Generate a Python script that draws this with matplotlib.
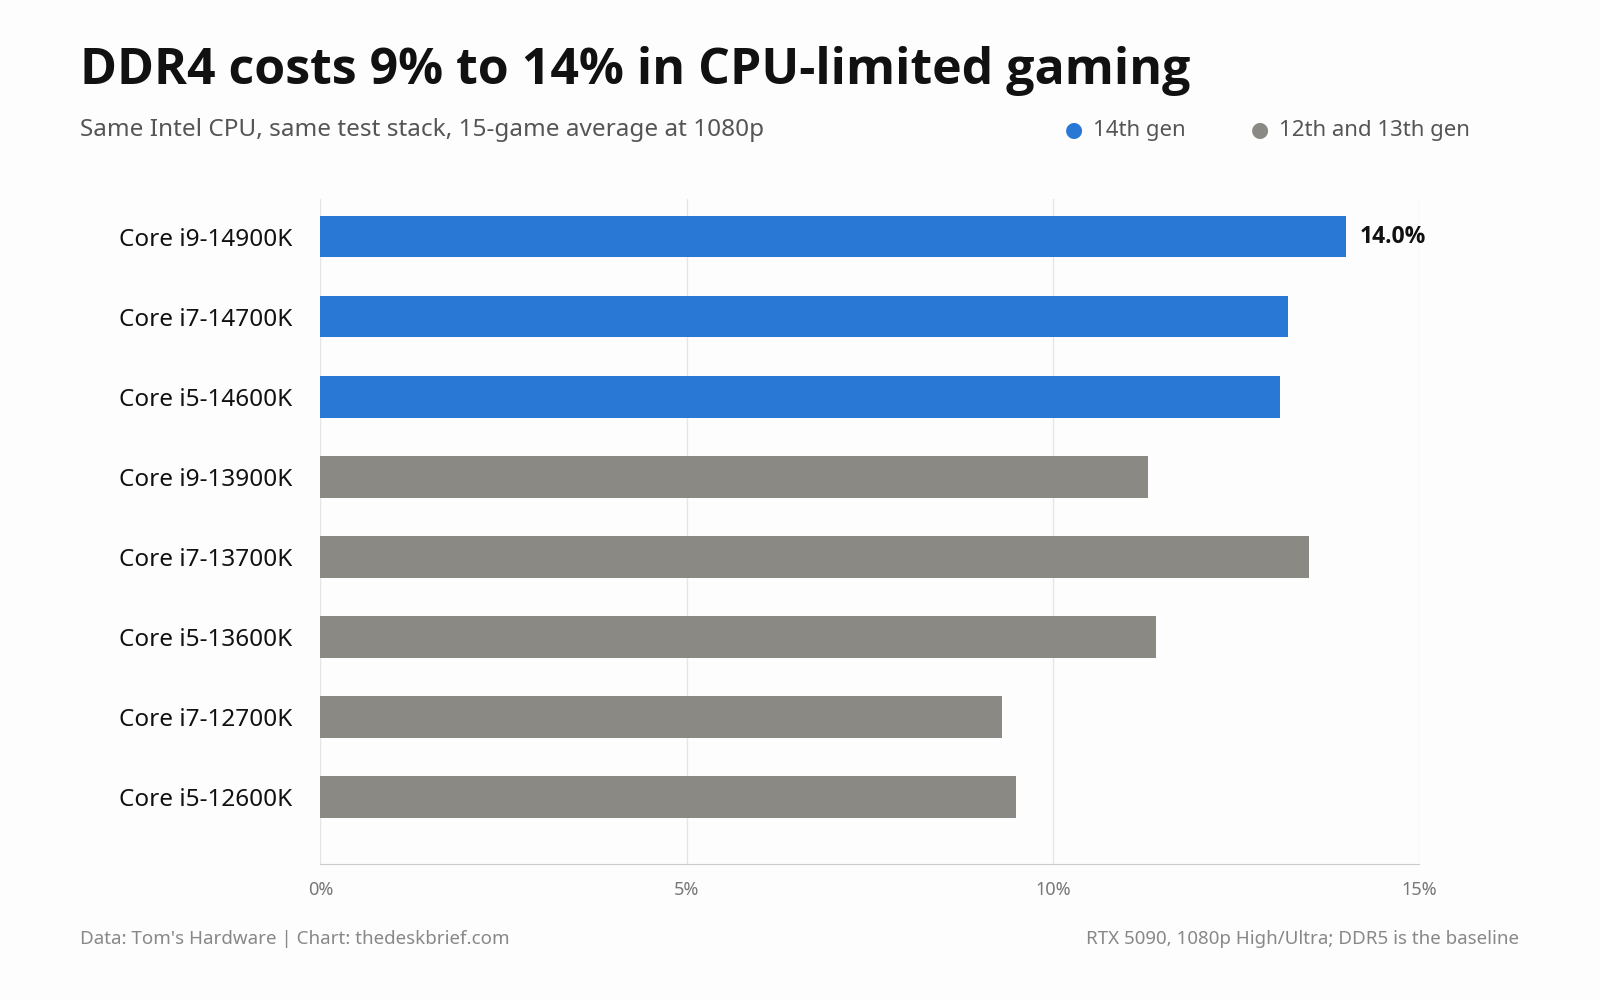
import matplotlib
matplotlib.use("Agg")
import matplotlib.pyplot as plt

cpus = ["Core i9-14900K","Core i7-14700K","Core i5-14600K","Core i9-13900K",
        "Core i7-13700K","Core i5-13600K","Core i7-12700K","Core i5-12600K"]
values = [14.0, 13.2, 13.1, 11.3, 13.5, 11.4, 9.3, 9.5]
gens = ["14th","14th","14th","old","old","old","old","old"]
ticks = [0, 5, 10, 15]
tick_labels = ["0%", "5%", "10%", "15%"]

plt.rcParams['font.family'] = ['Noto Sans', 'DejaVu Sans']
BOLD = ['Open Sans', 'DejaVu Sans']
BLUE = "#2a78d6"; GREY = "#8a8983"
fig = plt.figure(figsize=(16, 10), dpi=100, facecolor="#fdfdfd")
W, H = 1568, 980
ax = fig.add_axes([314/W, 1-847/H, (1391-314)/W, (847-195)/H], facecolor="#fdfdfd")
y = list(range(len(cpus)))
colors = [BLUE if g == "14th" else GREY for g in gens]
ax.barh(y, values, height=0.52, color=colors, zorder=3)
ax.set_ylim(7.84, -0.47)
ax.set_xlim(0, 15)
ax.set_yticks(y)
ax.set_yticklabels(cpus, fontsize=17.5, color="#111")
ax.set_xticks(ticks)
ax.set_xticklabels(tick_labels, fontsize=13, color="#777")
ax.tick_params(axis='both', length=0)
ax.tick_params(axis='y', pad=20)
ax.tick_params(axis='x', pad=12)
ax.grid(axis='x', color="#e6e6e6", lw=1, zorder=0)
for s in ["top", "right", "left"]:
    ax.spines[s].set_visible(False)
ax.spines["bottom"].set_color("#cccccc")
ax.text(values[0] + 0.18, 0, f"{values[0]:.1f}%", va="center", ha="left",
        fontsize=16.5, fontweight="bold", family=BOLD, color="#111")

fig.text(78/W, 1-70/H, "DDR4 costs 9% to 14% in CPU-limited gaming", fontsize=36,
         fontweight="bold", family=BOLD, va="center", color="#111")
fig.text(78/W, 1-127/H, "Same Intel CPU, same test stack, 15-game average at 1080p",
         fontsize=17.5, va="center", color="#555")
fig.text(1053/W, 1-128/H, "●", fontsize=15, va="center", ha="center", color=BLUE)
fig.text(1071/W, 1-128/H, "14th gen", fontsize=16, va="center", color="#555")
fig.text(1235/W, 1-128/H, "●", fontsize=15, va="center", ha="center", color=GREY)
fig.text(1253/W, 1-128/H, "12th and 13th gen", fontsize=16, va="center", color="#555")
fig.text(78/W, 1-920/H, "Data: Tom's Hardware | Chart: thedeskbrief.com",
         fontsize=13.5, va="center", color="#888")
fig.text(1489/W, 1-920/H, "RTX 5090, 1080p High/Ultra; DDR5 is the baseline",
         fontsize=13.5, va="center", ha="right", color="#888")
fig.savefig("out.png", dpi=100, facecolor=fig.get_facecolor())
